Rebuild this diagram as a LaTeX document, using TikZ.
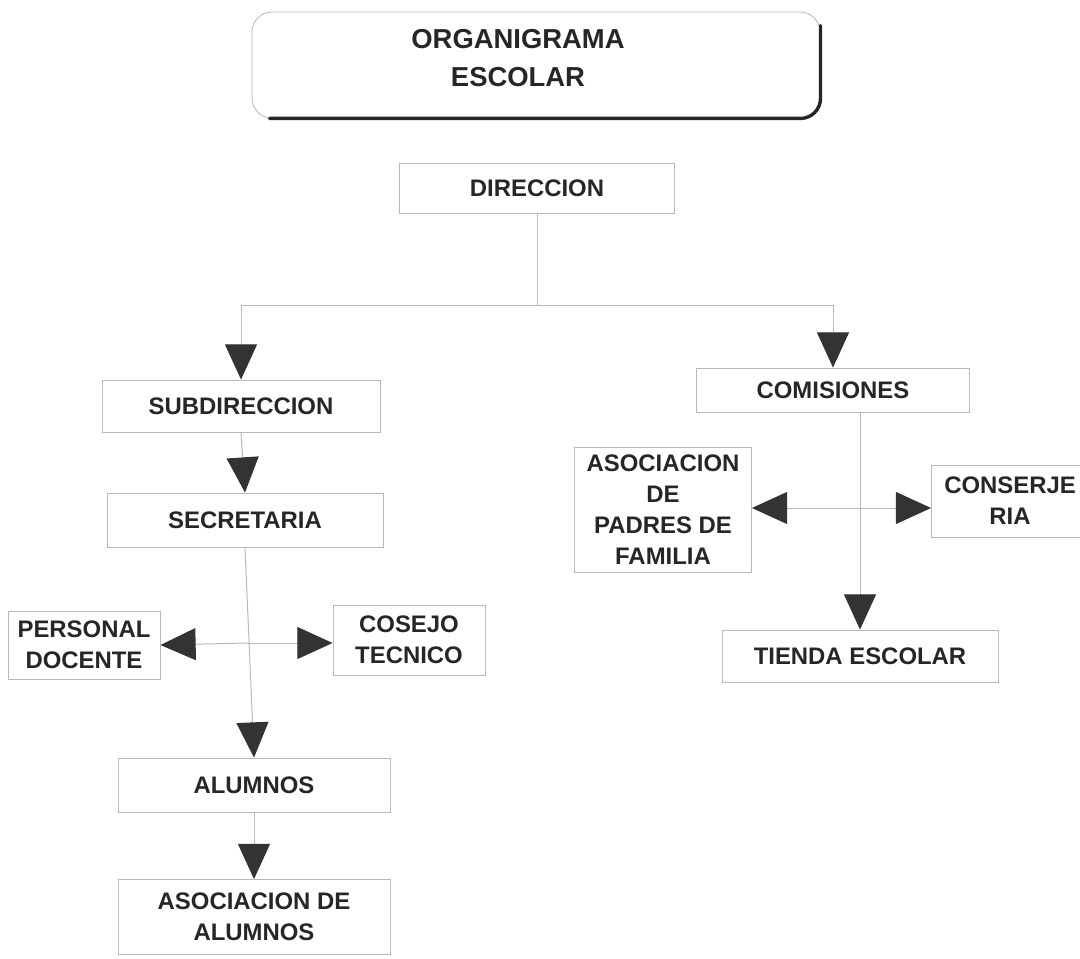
\documentclass[tikz,border=0pt]{standalone}
\usepackage{fontspec}
\setmainfont{Liberation Sans}
\usetikzlibrary{arrows.meta,positioning,calc}

\tikzset{
  box/.style={draw=gray!55, line width=0.6pt, align=center, inner sep=2pt,
    font=\bfseries\fontsize{17}{22}\selectfont, text=black!85},
  link/.style={draw=gray!55, line width=0.7pt},
  arr/.style={link, -{Triangle[width=0.8cm,length=0.88cm,color=black!80]}}
}

\begin{document}
\begin{tikzpicture}[x=0.025cm,y=-0.025cm]
	\useasboundingbox (0,0) rectangle (1080,959);
	% title
	\node[box, rounded corners=0.5cm, minimum width=14.2cm, minimum height=2.65cm] (title) at (536,65) {};
	\node[font=\bfseries\fontsize{19.5}{27}\selectfont, text=black!85, align=center] (titletext) at (518,58) {ORGANIGRAMA\\ESCOLAR};
	\draw[line width=2.4pt, black!85, rounded corners=0.5cm, line cap=round]
	  ([xshift=0.45cm]title.south west) -- (title.south east) -- ([yshift=-0.35cm]title.north east);
	% boxes
	\node[box, minimum width=6.875cm, minimum height=1.25cm] (dir) at (537,188) {DIRECCION};
	\node[box, minimum width=6.95cm, minimum height=1.3cm] (sub) at (241,406) {SUBDIRECCION};
	\node[box, minimum width=6.9cm, minimum height=1.35cm] (sec) at (245,520) {SECRETARIA};
	\node[box, minimum width=3.8cm, minimum height=1.7cm] (doc) at (84,645) {PERSONAL\\DOCENTE};
	\node[box, minimum width=3.8cm, minimum height=1.75cm] (tec) at (409,640) {COSEJO\\TECNICO};
	\node[box, minimum width=6.8cm, minimum height=1.35cm] (alu) at (254,785) {ALUMNOS};
	\node[box, minimum width=6.8cm, minimum height=1.875cm] (asal) at (254,917) {ASOCIACION DE\\ALUMNOS};
	\node[box, minimum width=6.825cm, minimum height=1.1cm] (com) at (833,390) {COMISIONES};
	\node[box, minimum width=4.425cm, minimum height=3.125cm] (pad) at (663,510) {ASOCIACION\\DE\\PADRES DE\\FAMILIA};
	\node[box, minimum width=3.925cm, minimum height=1.8cm] (con) at (1010,501) {CONSERJE\\RIA};
	\node[box, minimum width=6.9cm, minimum height=1.3cm] (tie) at (860,656) {TIENDA ESCOLAR};
	% junctions
	\coordinate (jd) at (537,305);
	\coordinate (jl) at (sub.north |- jd);
	\coordinate (jr) at (com.north |- jd);
	\coordinate (js) at (248,643);
	\coordinate (jc) at (850,508);
	% connectors
	\draw[link] (dir.south) -- (jd);
	\draw[link] (jl) -- (jr);
	\draw[arr] (jl) -- (sub.north);
	\draw[arr] (jr) -- (com.north);
	\draw[arr] (sub.south) -- (sec.north);
	\draw[arr] (sec.south) -- (alu.north);
	\draw[arr] (js) -- (doc.east);
	\draw[arr] (js) -- (tec.west |- js);
	\draw[arr] (alu.south) -- (asal.north);
	\draw[arr] (tie.north |- com.south) -- (tie.north);
	\draw[arr] (jc) -- (pad.east |- jc);
	\draw[arr] (jc) -- (con.west |- jc);
\end{tikzpicture}
\end{document}
